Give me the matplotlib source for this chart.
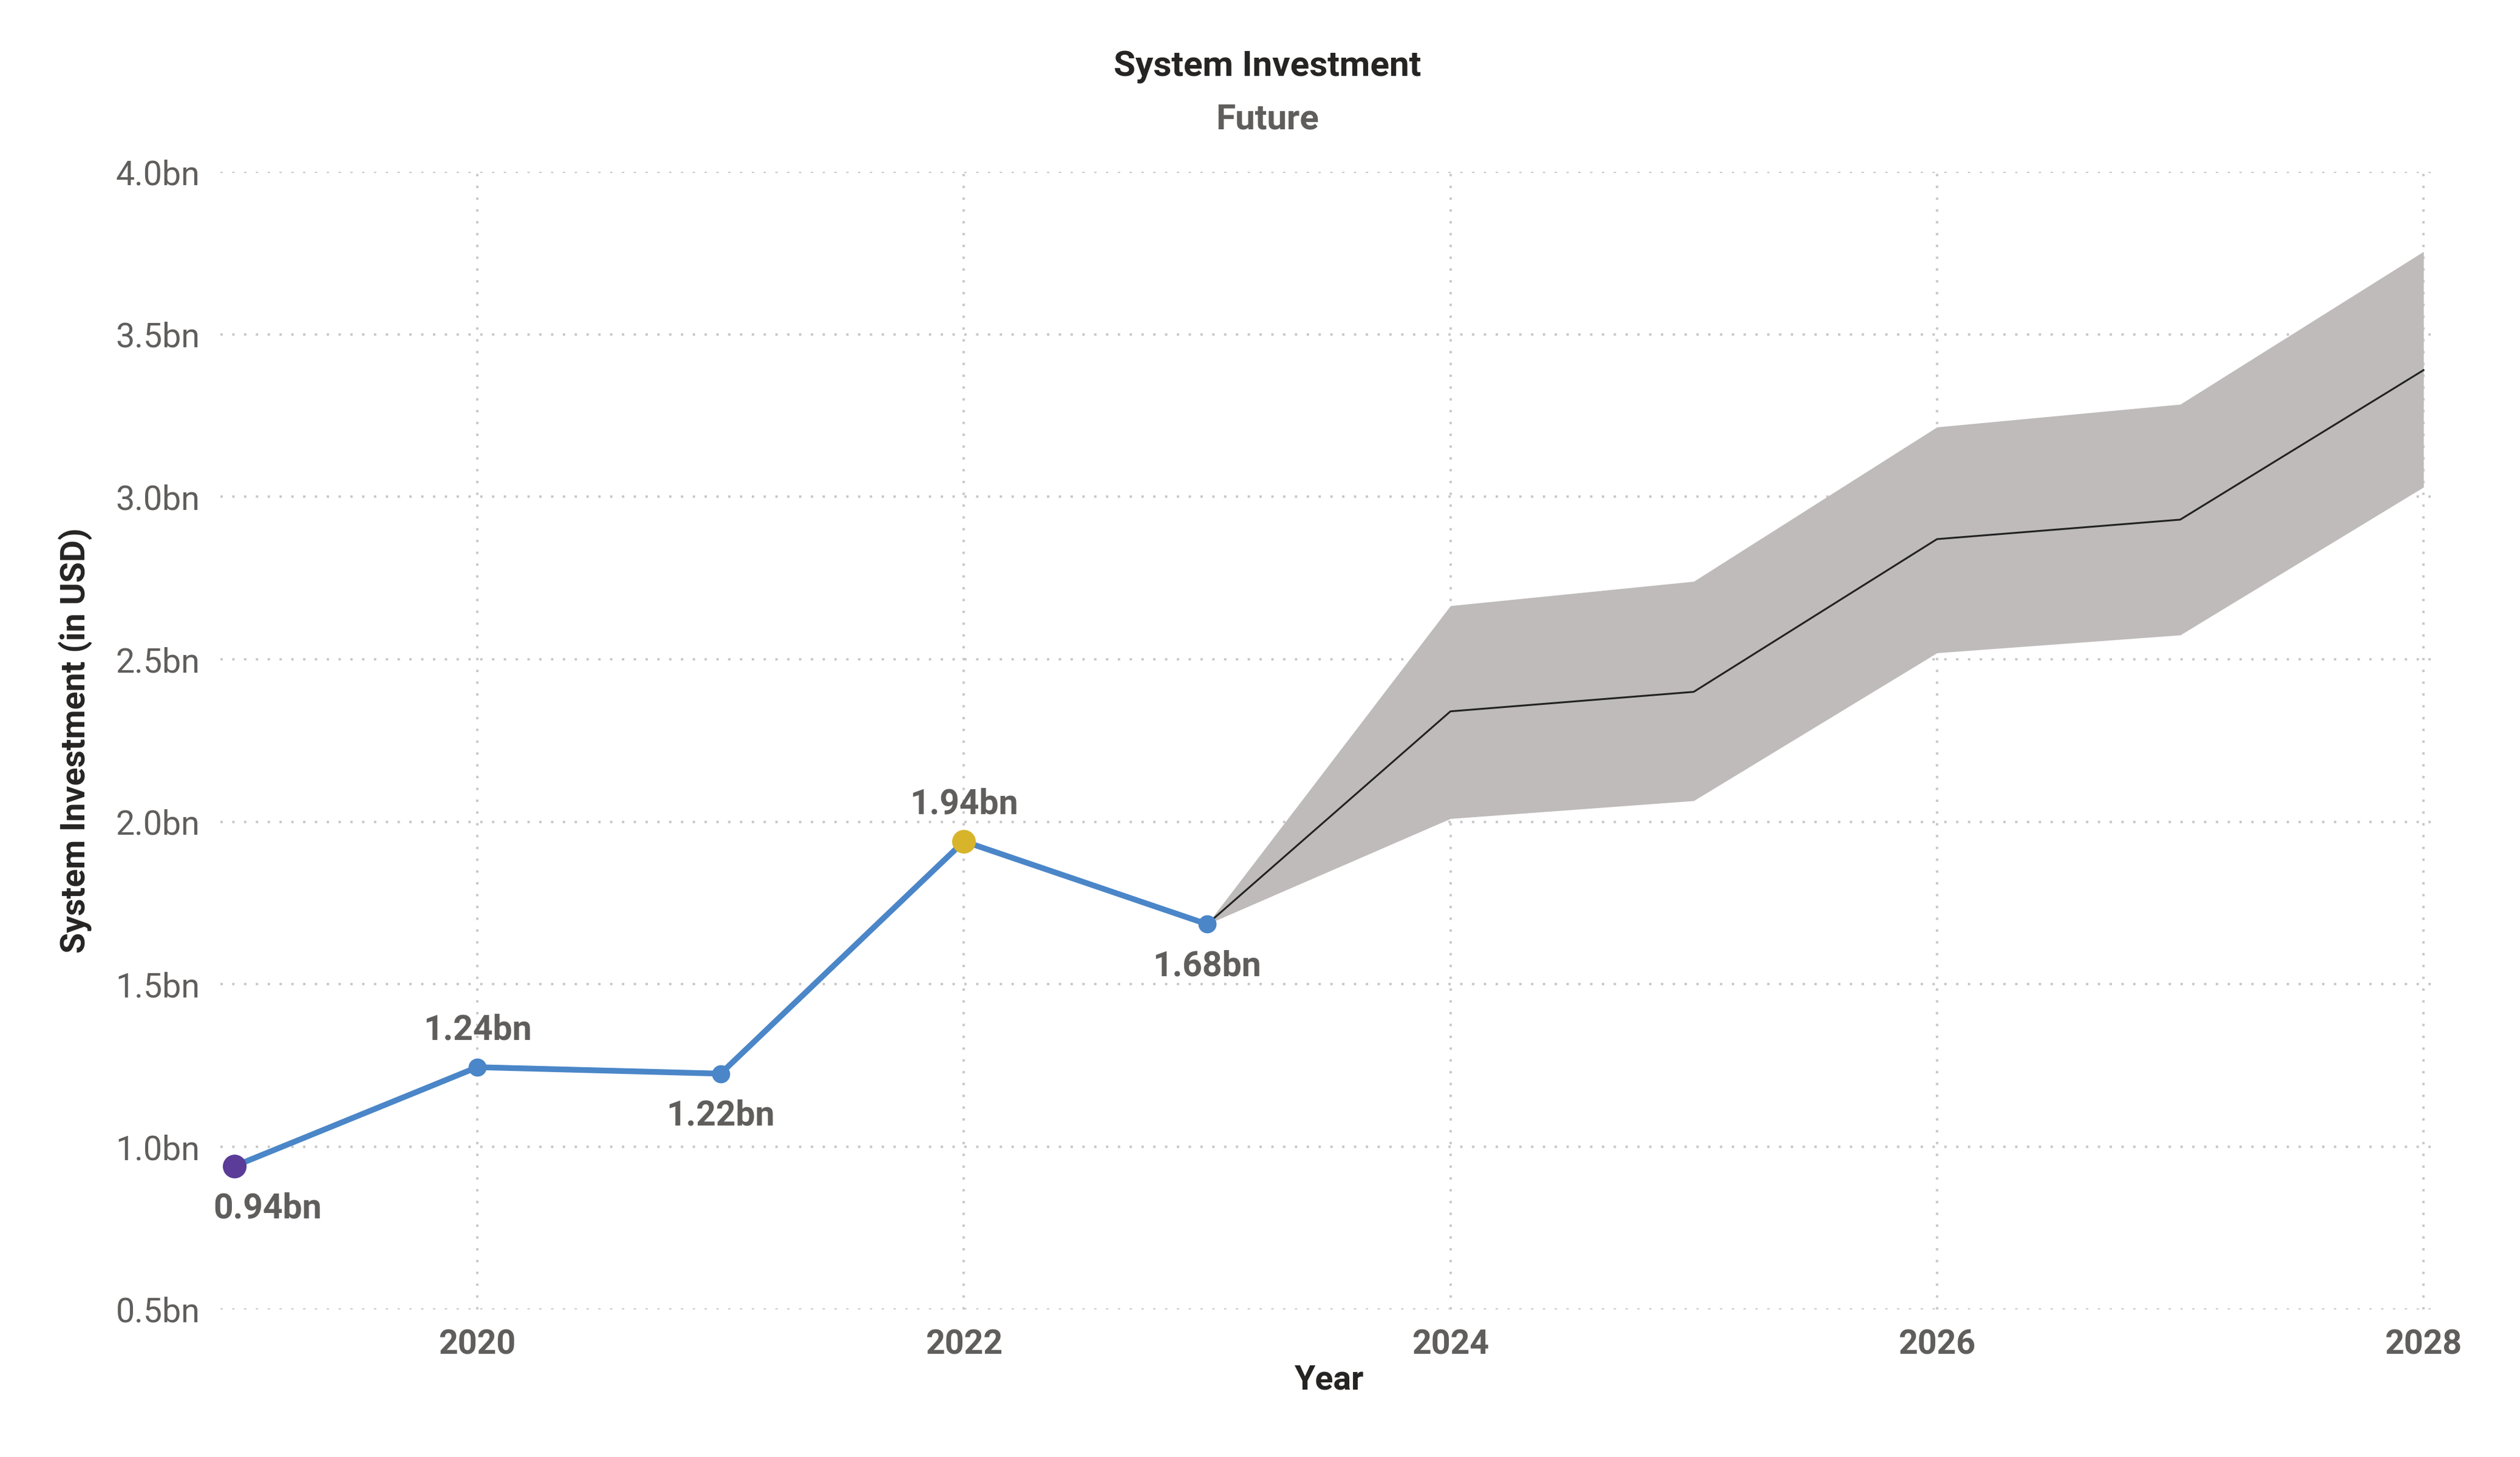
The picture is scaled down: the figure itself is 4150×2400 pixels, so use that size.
import matplotlib
matplotlib.use("Agg")
import matplotlib.pyplot as plt
from matplotlib.ticker import FuncFormatter, MultipleLocator

plt.rcParams['font.family'] = ['Roboto', 'DejaVu Sans']

# actuals
years = [2019, 2020, 2021, 2022, 2023]
values = [0.94, 1.245, 1.225, 1.94, 1.685]
labels = ["0.94bn", "1.24bn", "1.22bn", "1.94bn", "1.68bn"]
label_pos = ["below", "above", "below", "above", "below"]

# forecast
fc_years = [2023, 2024, 2025, 2026, 2027, 2028]
fc_mid = [1.685, 2.34, 2.40, 2.87, 2.93, 3.39]
fc_upper = [1.685, 2.665, 2.74, 3.215, 3.285, 3.755]
fc_lower = [1.685, 2.01, 2.065, 2.52, 2.575, 3.03]

blue = "#4A86C8"
purple = "#5B3C98"
yellow = "#D8B42B"
band = "#BFBBBA"
grey_txt = "#605E5C"
dark_txt = "#252423"

fig = plt.figure(figsize=(20.75, 12), dpi=200)
ax = fig.add_axes([0.0874, 0.1014, 0.8801, 0.7806])

ax.fill_between(fc_years, fc_lower, fc_upper, color=band, linewidth=0, zorder=2)
ax.plot(fc_years, fc_mid, color="#222222", linewidth=1.1, zorder=3)

ax.plot(years, values, color=blue, linewidth=3.4, zorder=4)
ax.scatter(years[1:5], values[1:5], s=95, color=blue, zorder=5)
ax.scatter([years[0]], [values[0]], s=170, color=purple, zorder=6)
ax.scatter([years[3]], [values[3]], s=170, color=yellow, zorder=6)

for i, (x, y) in enumerate(zip(years, values)):
    dy = 22 if label_pos[i] == "above" else -25
    dx = 20 if i == 0 else 0
    ax.annotate(labels[i], (x, y), xytext=(dx, dy), textcoords="offset points",
                ha="center", va="center", fontsize=20.5, fontweight="bold",
                color=grey_txt, zorder=7)

ax.set_xlim(2018.943, 2028.06)
ax.set_ylim(0.5, 4.0)
ax.xaxis.set_major_locator(MultipleLocator(2))
ax.yaxis.set_major_locator(MultipleLocator(0.5))
ax.yaxis.set_major_formatter(FuncFormatter(lambda v, p: f"{v:.1f}bn"))

ax.grid(True, linestyle=(0, (1, 4)), color="#C8C8C8", linewidth=1.4, zorder=0)
ax.set_axisbelow(True)
for s in ax.spines.values():
    s.set_visible(False)
ax.tick_params(length=0, pad=12)
for t in ax.get_xticklabels():
    t.set_fontsize(20)
    t.set_fontweight("bold")
    t.set_color(grey_txt)
for t in ax.get_yticklabels():
    t.set_fontsize(20)
    t.set_color(grey_txt)

ax.set_xlabel("Year", fontsize=20, fontweight="bold", color=dark_txt, labelpad=2)
ax.set_ylabel("System Investment (in USD)", fontsize=20, fontweight="bold",
              color=dark_txt, labelpad=14)

fig.text(0.503, 0.954, "System Investment", ha="center", va="center",
         fontsize=21, fontweight="bold", color=dark_txt)
fig.text(0.503, 0.918, "Future", ha="center", va="center",
         fontsize=21, fontweight="bold", color=grey_txt)

fig.savefig("out.png", dpi=200)
